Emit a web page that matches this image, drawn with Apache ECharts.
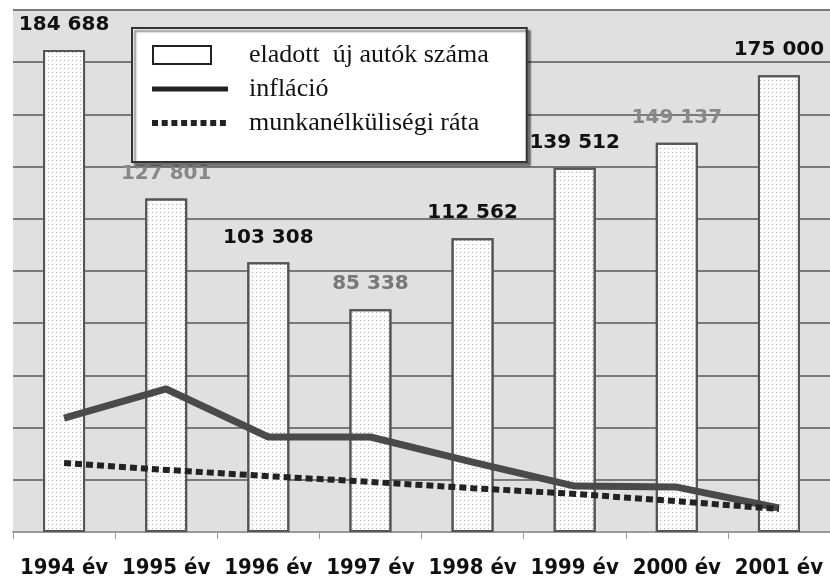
<!DOCTYPE html>
<html>
<head>
<meta charset="utf-8">
<script src="https://cdn.jsdelivr.net/npm/echarts@6/dist/echarts.min.js"></script>
<style>
  html, body { margin: 0; padding: 0; background: #fff; }
  #chart { width: 830px; height: 580px; }
</style>
</head>
<body>
<div id="chart"></div>
<script>
// évek
var years = ['1994 év', '1995 év', '1996 év', '1997 év', '1998 év', '1999 év', '2000 év', '2001 év'];
// eladott új autók száma
var cars = [184688, 127801, 103308, 85338, 112562, 139512, 149137, 175000];
// infláció (a kép alapján becsült, rejtett tengelyen)
var inflation = [21.8, 27.4, 18.2, 18.2, 13.4, 8.8, 8.6, 4.6];
// munkanélküliségi ráta (becsült)
var unemployment = [13.2, 11.9, 10.7, 9.6, 8.4, 7.3, 5.9, 4.4];
// címkék színe (szürke / fekete, ahogy a szkennelt képen)
var labelColors = ['#111', '#888', '#111', '#777', '#111', '#111', '#888', '#111'];

var myChart = echarts.init(document.getElementById('chart'));

var barData = cars.map(function (v, i) {
  return { value: v, label: { color: labelColors[i] } };
});

// jelmagyarázat ikonok
var iconBox = 'path://M0,0 M78,20 M1,1 H59 V19 H1 Z';
var iconLine = 'path://M0,0 M78,20 M0,7.5 H76 V12.5 H0 Z';
var iconDots = 'path://M0,0 M78,20 M0,7h6v6h-6z M9.7,7h6v6h-6z M19.4,7h6v6h-6z M29.1,7h6v6h-6z ' +
  'M38.8,7h6v6h-6z M48.5,7h6v6h-6z M58.2,7h6v6h-6z M67.9,7h6v6h-6z';

var option = {
  animation: false,
  backgroundColor: '#fff',
  legend: {
    orient: 'vertical',
    left: 132,
    top: 28,
    padding: [13, 38, 25, 19],
    itemGap: 6,
    itemWidth: 78,
    itemHeight: 20,
    backgroundColor: '#fff',
    borderColor: '#333',
    borderWidth: 2,
    shadowColor: 'rgba(0,0,0,0.45)',
    shadowOffsetX: 3,
    shadowOffsetY: 3,
    shadowBlur: 2,
    textStyle: {
      fontFamily: 'Liberation Serif',
      fontSize: 26,
      lineHeight: 28,
      color: '#111',
      padding: [0, 0, 0, 14]
    },
    data: [
      { name: 'eladott  új autók száma', icon: iconBox, itemStyle: { color: '#fff', borderColor: '#222', borderWidth: 2, decal: 'none' } },
      { name: 'infláció', icon: iconLine, itemStyle: { color: '#222', borderWidth: 0 } },
      { name: 'munkanélküliségi ráta', icon: iconDots, itemStyle: { color: '#222', borderWidth: 0 } }
    ]
  },
  grid: {
    left: 13,
    top: 10,
    width: 820,
    height: 522,
    show: true,
    backgroundColor: '#e0e0e0',
    borderWidth: 0
  },
  xAxis: {
    type: 'category',
    data: years,
    axisLine: { show: true, lineStyle: { color: '#999', width: 2 } },
    axisTick: { show: true, length: 7, lineStyle: { color: '#999', width: 1 } },
    axisLabel: {
      interval: 0,
      margin: 25,
      fontFamily: 'DejaVu Sans Condensed',
      fontWeight: 'bold',
      fontSize: 22,
      color: '#111'
    }
  },
  yAxis: [
    {
      type: 'value',
      min: 0,
      max: 200000,
      interval: 20000,
      axisLabel: { show: false },
      axisLine: { show: false },
      axisTick: { show: false },
      splitLine: { lineStyle: { color: '#7a7a7a', width: 2 } }
    },
    {
      type: 'value',
      min: 0,
      max: 100,
      show: false,
      splitLine: { show: false }
    }
  ],
  series: [
    {
      name: 'eladott  új autók száma',
      type: 'bar',
      barWidth: 42,
      data: barData,
      itemStyle: {
        color: '#fbfbfb',
        borderColor: '#555',
        borderWidth: 2,
        decal: {
          symbol: 'rect',
          symbolSize: 1,
          dashArrayX: [1, 3],
          dashArrayY: [1, 3],
          color: 'rgba(0,0,0,0.3)'
        }
      },
      label: {
        show: true,
        position: 'top',
        distance: 15,
        fontFamily: 'DejaVu Sans',
        fontWeight: 'bold',
        fontSize: 20,
        formatter: function (p) {
          return String(p.value).replace(/\B(?=(\d{3})+(?!\d))/g, ' ');
        }
      }
    },
    {
      name: 'infláció',
      type: 'line',
      yAxisIndex: 1,
      data: inflation,
      symbol: 'none',
      lineStyle: { color: '#4a4a4a', width: 7 },
      itemStyle: { color: '#222' }
    },
    {
      name: 'munkanélküliségi ráta',
      type: 'line',
      yAxisIndex: 1,
      data: unemployment,
      symbol: 'none',
      lineStyle: { color: '#222', width: 6, type: [7, 4] },
      itemStyle: { color: '#222' }
    }
  ]
};

myChart.setOption(option);
</script>
</body>
</html>
